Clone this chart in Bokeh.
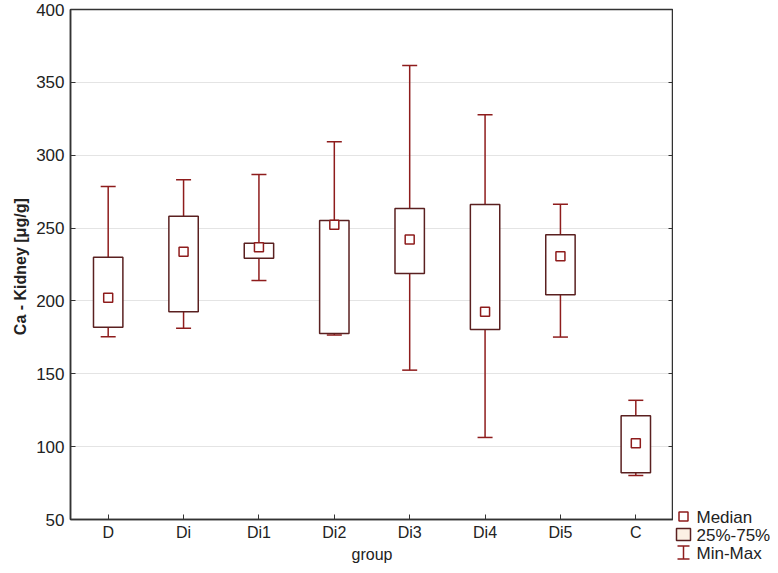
from bokeh.plotting import figure
from bokeh.layouts import row
from bokeh.models import (ColumnDataSource, FactorRange, Whisker, TeeHead, LinearAxis, FixedTicker)
from bokeh.core.properties import value
from bokeh.embed import file_html
from bokeh.resources import INLINE

groups = ["D", "Di", "Di1", "Di2", "Di3", "Di4", "Di5", "C"]
mins = [175.5, 181.3, 214.0, 176.6, 152.5, 106.3, 175.2, 80.2]
q1 = [181.9, 192.6, 229.3, 177.7, 218.9, 180.4, 204.3, 82.0]
medians = [202.2, 233.8, 236.9, 252.3, 242.1, 192.6, 230.6, 102.4]
q3 = [229.9, 258.1, 239.6, 255.2, 263.5, 266.2, 245.5, 121.2]
maxs = [278.6, 283.1, 286.7, 309.2, 361.5, 327.7, 266.4, 131.8]
y_ticks = [50, 100, 150, 200, 250, 300, 350, 400]
legend_labels = ["Median", "25%-75%", "Min-Max"]

BOX = "#5a2020"
WH = "#8e1c1c"
FONT = "Liberation Sans"

src = ColumnDataSource(dict(x=groups, mn=mins, q1=q1, med=medians, q3=q3, mx=maxs))

p = figure(width=673, height=565, x_range=FactorRange(*groups), y_range=(50, 400),
           output_backend="svg", toolbar_location=None,
           min_border_left=70, min_border_right=0, min_border_top=9, min_border_bottom=44)

p.xgrid.grid_line_color = None
p.ygrid.grid_line_color = "#e4e4e4"
p.ygrid.ticker = FixedTicker(ticks=y_ticks)
p.outline_line_color = "#333333"
p.outline_line_width = 1.5

p.yaxis.ticker = FixedTicker(ticks=y_ticks)
for ax in (p.xaxis[0], p.yaxis[0]):
    ax.major_tick_in = 5
    ax.major_tick_out = 0
    ax.minor_tick_in = 0
    ax.minor_tick_out = 0
    ax.axis_line_color = "#333333"
    ax.axis_line_width = 1.5
    ax.major_tick_line_color = "#333333"
    ax.major_label_text_font = FONT
    ax.major_label_text_color = "#222222"
    ax.axis_label_text_font = FONT
    ax.axis_label_text_color = "#222222"
p.xaxis.major_label_text_font_size = "16px"
p.yaxis.major_label_text_font_size = "17px"
p.xaxis.major_label_standoff = 4
p.yaxis.major_label_standoff = 6
p.xaxis.axis_label = "group"
p.xaxis.axis_label_text_font_style = "normal"
p.xaxis.axis_label_text_font_size = "16px"
p.xaxis.axis_label_standoff = 2
p.yaxis.axis_label = "Ca - Kidney  [μg/g]"
p.yaxis.axis_label_text_font_style = "bold"
p.yaxis.axis_label_text_font_size = "16px"
p.yaxis.axis_label_standoff = 4

right_ax = LinearAxis(ticker=FixedTicker(ticks=y_ticks),
                      major_label_overrides={t: "" for t in y_ticks}, major_label_standoff=0,
                      major_tick_in=5, major_tick_out=0, minor_tick_in=0, minor_tick_out=0,
                      axis_line_color="#333333", axis_line_width=1.5, major_tick_line_color="#333333")
p.add_layout(right_ax, "right")

# whiskers
upper = Whisker(source=src, base="x", upper="mx", lower="q3", line_color=WH, line_width=1.5,
                upper_head=TeeHead(size=15, line_color=WH, line_width=1.5), lower_head=None)
lower = Whisker(source=src, base="x", upper="q1", lower="mn", line_color=WH, line_width=1.5,
                lower_head=TeeHead(size=15, line_color=WH, line_width=1.5), upper_head=None)
p.add_layout(upper)
p.add_layout(lower)

# boxes
p.vbar(x="x", width=0.39, top="q3", bottom="q1", source=src, fill_color="white",
       line_color=BOX, line_width=1.5)
# medians
p.scatter(x="x", y="med", source=src, marker="square", size=9, fill_color="white",
          line_color=WH, line_width=1.5)

# ---- legend panel (pixel-like coordinates, y downwards) ----
LW, LH = 97, 565
lg = figure(frame_width=LW, frame_height=LH, x_range=(0, LW), y_range=(LH, 0),
            output_backend="svg", toolbar_location=None, min_border=0,
            x_axis_location=None, y_axis_location=None)
lg.grid.grid_line_color = None
lg.outline_line_color = None

row_y = [507, 525, 543]
gx = 10
lg.scatter(x=[gx], y=[row_y[0]], marker="square", size=9, fill_color="white",
           line_color=WH, line_width=1.5)
lg.rect(x=[gx], y=[row_y[1]], width=14, height=12, fill_color="#fbf1e4",
        line_color=BOX, line_width=1.5)
lg.segment(x0=[gx, gx - 6, gx - 6], y0=[row_y[2] - 6.5, row_y[2] - 6.5, row_y[2] + 6.5],
           x1=[gx, gx + 6, gx + 6], y1=[row_y[2] + 6.5, row_y[2] - 6.5, row_y[2] + 6.5],
           line_color=WH, line_width=1.5)
lg.text(x=[23] * 3, y=[y + 1 for y in row_y], text=legend_labels, text_font=value(FONT),
        text_font_size="17px", text_color="#222222", text_baseline="middle", text_align="left")

layout = row(p, lg)
open("out.html", "w").write(file_html(layout, INLINE))
